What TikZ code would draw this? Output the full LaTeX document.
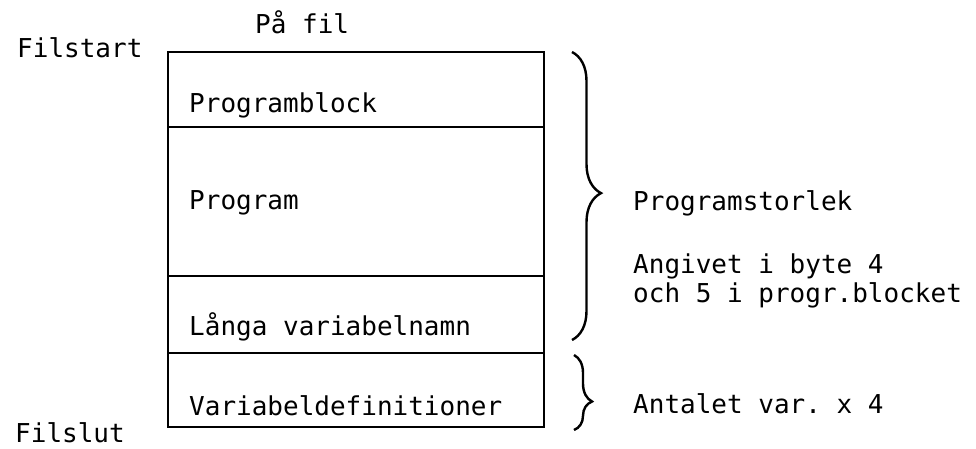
\documentclass[tikz,border=0pt]{standalone}
\usepackage{fontspec}
\setmonofont{DejaVu Sans Mono}
\usepackage{tikz}
\usetikzlibrary{decorations.pathreplacing}

\begin{document}
\begin{tikzpicture}[x=1pt,y=-1pt,
	txt/.style={anchor=base west,inner sep=0pt,font=\ttfamily\fontsize{26}{29}\selectfont},
	box/.style={line width=2pt},
	brc/.style={decorate,line width=2.4pt}]
	\useasboundingbox (0,0) rectangle (976,448);
	
		\node[txt] (pafil) at (255,33) {På fil};
		\node[txt] (start) at (17,57) {Filstart};
		\node[txt] (slut) at (15,442) {Filslut};
		
		\coordinate (l0) at (168,52);   \coordinate (r0) at (544,52);
		\coordinate (l1) at (168,127);  \coordinate (r1) at (544,127);
		\coordinate (l2) at (168,276);  \coordinate (r2) at (544,276);
		\coordinate (l3) at (168,353);  \coordinate (r3) at (544,353);
		\coordinate (l4) at (168,427);  \coordinate (r4) at (544,427);
		
		\node[txt] (pblock) at (189,112) {Programblock};
		\node[txt] (prog) at (189,209) {Program};
		\node[txt] (langa) at (189,335) {Långa variabelnamn};
		\node[txt] (vdef) at (189,415) {Variabeldefinitioner};
		
		\draw[box] (l0) -- (r0) -- (r4) -- (l4) -- cycle;
		\draw[box] (l1) -- (r1);
		\draw[box] (l2) -- (r2);
		\draw[box] (l3) -- (r3);
		
		\coordinate (b1a) at (572,52);
		\coordinate (b1b) at (572,340);
		\coordinate (b2a) at (574,355);
		\coordinate (b2b) at (574,430);
		
		\draw[brc,decoration={brace,amplitude=29pt,aspect=0.49}] (b1a) -- (b1b);
		\draw[brc,decoration={brace,amplitude=18pt,aspect=0.62}] (b2a) -- (b2b);
		
		\node[txt] (storlek) at (633,210) {Programstorlek};
		\node[txt] (angivet) at (633,273) {Angivet i byte 4};
		\node[txt] (och) at (633,302) {och 5 i progr.blocket};
		\node[txt] (antal) at (633,413) {Antalet var. x 4};
		
	\end{tikzpicture}
\end{document}
